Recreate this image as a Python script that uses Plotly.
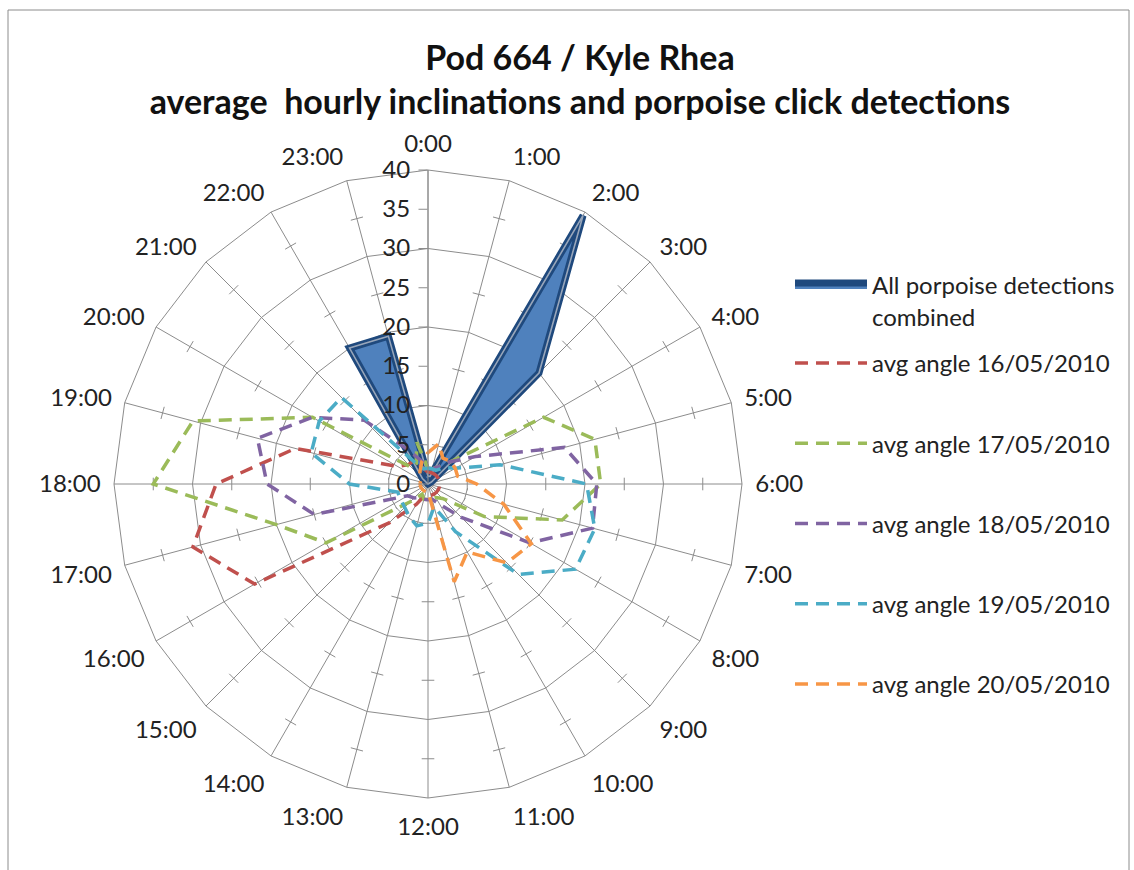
import plotly.graph_objects as go

# Hour-of-day categories around the radar
hours = [f"{h}:00" for h in range(24)]

# Radial axis: labelled every 5, rings every 10
radial_ticks = [0, 5, 10, 15, 20, 25, 30, 35, 40]
ring_values = [10, 20, 30, 40]
spoke_tick_values = [5, 15, 25, 35]

# Porpoise click detections (all pods combined) per hour
detections = [1, 1, 39.5, 20, 0.5, 0, 0, 0, 0, 0, 0, 0,
              0, 0, 0, 0, 0, 0, 0, 0, 0, 1, 20, 19.5]

# Average inclination angle per hour, one series per day
avg_16 = [1.5, 1.5, 1.5, 1.5, 1.5, 1.5, 1.5, 1.5, 1.5, 1.5, 1.5, 1.5,
          1.5, 1.5, 3, 7, 25.5, 31, 27, 17.5, 4.5, 3.5, 3.5, 2]
avg_17 = [2, 2, 2.5, 4, 17, 22, 22, 17.7, 8.3, 2.6, 2, 2,
          2, 2, 1.5, 3.2, 15, 20, 35, 31, 17, 3, 3, 5.5]
avg_18 = [2, 2, 2.5, 4, 7, 18, 21.5, 21.7, 15, 6, 3, 2,
          2, 2, 2, 2.5, 3, 15, 20.5, 22.5, 17, 11.5, 5, 3]
avg_19 = [2, 2, 2, 3, 4, 9.5, 20.2, 22, 21.7, 16.3, 7, 3,
          5, 5.5, 4.8, 4.2, 4, 4, 10, 15.4, 16, 15.6, 3, 2]
avg_20 = [4, 5.3, 3.8, 4.1, 4, 3.9, 6.2, 10, 15.2, 14.2, 10, 12.9,
          1, 1, 1, 1, 1, 1, 1, 1, 1, 1.5, 2, 3]

day_series = [
    ("avg angle 16/05/2010", avg_16, "#C0504D"),
    ("avg angle 17/05/2010", avg_17, "#9BBB59"),
    ("avg angle 18/05/2010", avg_18, "#8064A2"),
    ("avg angle 19/05/2010", avg_19, "#4BACC6"),
    ("avg angle 20/05/2010", avg_20, "#F79646"),
]

FONT = "Lato, 'Open Sans', sans-serif"
GRID = "#8C8C8C"
TEXT = "#222222"
W, H = 1134, 870


def closed(values):
    return list(values) + [values[0]]


theta_closed = closed(hours)

fig = go.Figure()

# Small tick marks across each spoke at the half-way values
tick_r, tick_t, tick_a = [], [], []
for i, h in enumerate(hours[1:], start=1):
    for v in spoke_tick_values:
        tick_r.append(v)
        tick_t.append(h)
        tick_a.append(i * 15)
fig.add_trace(go.Scatterpolar(
    r=tick_r, theta=tick_t, mode="markers",
    marker=dict(symbol="line-ew", size=9, angle=tick_a,
                line=dict(color=GRID, width=1)),
    hoverinfo="skip", showlegend=False, subplot="polar"))

# Detections: filled area with dark border and a light centre line
fig.add_trace(go.Scatterpolar(
    r=closed(detections), theta=theta_closed, mode="lines",
    fill="toself", fillcolor="#4F81BD",
    line=dict(color="#1F497D", width=7),
    name="All porpoise detections<br>combined",
    legend="legend", subplot="polar"))
fig.add_trace(go.Scatterpolar(
    r=closed(detections), theta=theta_closed, mode="lines",
    line=dict(color="#98A6BA", width=1.6),
    hoverinfo="skip", showlegend=False, subplot="polar"))

for i, (name, vals, color) in enumerate(day_series):
    fig.add_trace(go.Scatterpolar(
        r=closed(vals), theta=theta_closed, mode="lines",
        line=dict(color=color, width=3.5, dash="13px,8px"),
        name=name, legend="legend2", legendgroup=f"g{i}",
        subplot="polar"))

dom_x = [114 / W, 742 / W]
dom_y = [(H - 798) / H, (H - 170) / H]

fig.update_layout(
    width=W, height=H,
    margin=dict(l=0, r=0, t=0, b=0),
    paper_bgcolor="white",
    font=dict(family=FONT, size=24, color=TEXT),
    title=dict(
        text="Pod 664 / Kyle Rhea<br>average\u00a0 hourly inclinations and porpoise click detections",
        font=dict(family=FONT, size=34, color="#111111", weight="bold"),
        x=580 / W, xanchor="center", y=1 - 70 / H, yanchor="middle",
        yref="container"),
    polar=dict(
        domain=dict(x=dom_x, y=dom_y),
        bgcolor="white",
        gridshape="linear",
        angularaxis=dict(
            type="category", categoryarray=hours,
            direction="clockwise", rotation=90,
            showgrid=True, gridcolor=GRID, gridwidth=1,
            showline=True, linecolor=GRID, linewidth=1,
            ticks="outside", ticklen=8, tickcolor="rgba(0,0,0,0)",
            tickfont=dict(size=24, color=TEXT)),
        radialaxis=dict(
            range=[0, 40], tickvals=ring_values,
            showgrid=True, gridcolor=GRID, gridwidth=1,
            showline=False, showticklabels=False, ticks=""),
    ),
    polar2=dict(
        domain=dict(x=dom_x, y=dom_y),
        bgcolor="rgba(0,0,0,0)",
        gridshape="linear",
        angularaxis=dict(
            type="category", categoryarray=hours,
            direction="clockwise", rotation=90,
            showgrid=False, showline=False, showticklabels=False, ticks=""),
        radialaxis=dict(
            range=[0, 40], angle=90, tickangle=90,
            tickvals=radial_ticks, side="counterclockwise",
            showgrid=False, showline=True, linecolor=GRID, linewidth=1,
            ticks="outside", ticklen=9, tickcolor=GRID,
            tickfont=dict(size=24, color=TEXT)),
    ),
    legend=dict(
        x=790 / W, xanchor="left", y=1 - 263 / H, yanchor="top",
        font=dict(size=24, color=TEXT), valign="top",
        itemwidth=72, bgcolor="rgba(0,0,0,0)"),
    legend2=dict(
        x=790 / W, xanchor="left", y=1 - 341 / H, yanchor="top",
        font=dict(size=24, color=TEXT),
        tracegroupgap=46, itemwidth=72, bgcolor="rgba(0,0,0,0)"),
    shapes=[dict(type="rect", xref="paper", yref="paper",
                 x0=8 / W, x1=1129 / W, y0=-0.02, y1=1 - 10 / H,
                 line=dict(color="#8C8C8C", width=1))],
)

# An empty placeholder keeps polar2 drawn above the data
fig.add_trace(go.Scatterpolar(r=[None], theta=[None], subplot="polar2",
                              showlegend=False, hoverinfo="skip"))

fig.write_html("out.html")
